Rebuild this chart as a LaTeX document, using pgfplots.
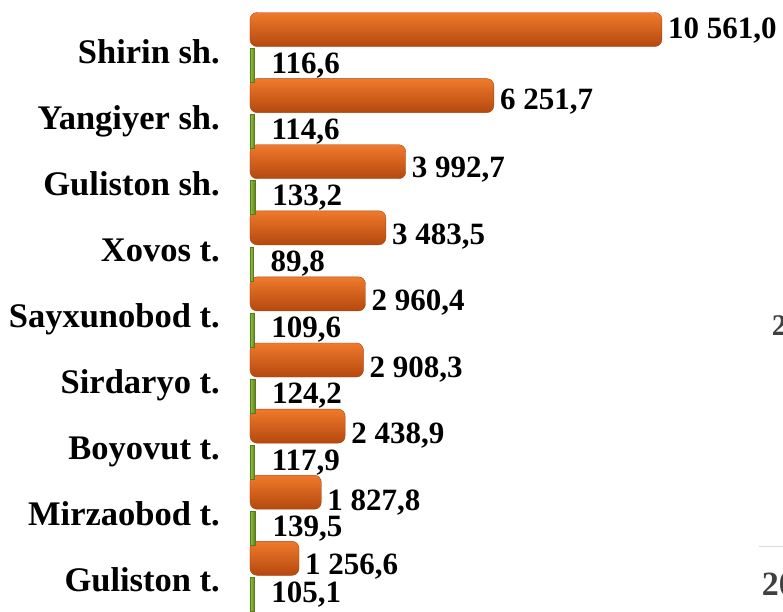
\documentclass[border=0pt]{standalone}
\usepackage{fontspec}
\setmainfont{Liberation Serif}
\usepackage{pgfplots}
\pgfplotsset{compat=1.18}
\definecolor{oTop}{HTML}{F07A2C}
\definecolor{oMid}{HTML}{E8671D}
\definecolor{oBot}{HTML}{B4480E}
\definecolor{oEdge}{HTML}{A8440F}
\definecolor{gL}{HTML}{8DC63F}
\definecolor{gR}{HTML}{5A7A1C}
\definecolor{legtxt}{HTML}{404040}
\definecolor{legline}{HTML}{D9D9D9}
\pgfplotsset{
  obar/.style={xbar, bar shift=0pt, draw=oEdge, top color=oTop, middle color=oMid, bottom color=oBot, rounded corners=7pt,
    point meta=explicit symbolic, nodes near coords,
    every node near coord/.append style={font=\fontsize{31}{31}\selectfont\bfseries, anchor=base west, inner sep=0pt, xshift=6pt, text=black}},
}
\newcommand{\obar}[4]{\addplot[obar, every node near coord/.append style={yshift=#4}] coordinates {(#1,#2) [#3]};}
\begin{document}
\begin{tikzpicture}
\begin{axis}[
  scale only axis, width=533pt, height=611pt,
  xmin=0, xmax=13667, ymin=-0.535, ymax=8.7086,
  axis line style={draw=none},
  clip=false,
  xtick=\empty,
  major tick length=0pt,
  ytick={-0.245,0.755,1.755,2.755,3.755,4.755,5.755,6.755,7.755},
  yticklabels={Guliston t.,Mirzaobod t.,Boyovut t.,Sirdaryo t.,Sayxunobod t.,Xovos t.,Guliston sh.,Yangiyer sh.,Shirin sh.},
  yticklabel style={font=\fontsize{34.5}{36}\selectfont\bfseries, anchor=base east, inner sep=0pt, xshift=-30pt},
  bar width=34pt,
]
\obar{10561.0}{8.262}{10 561,0}{-9pt}
\obar{6251.7}{7.262}{6 251,7}{-14pt}
\obar{3992.7}{6.262}{3 992,7}{-16pt}
\obar{3483.5}{5.262}{3 483,5}{-17pt}
\obar{2960.4}{4.262}{2 960,4}{-17pt}
\obar{2908.3}{3.262}{2 908,3}{-17pt}
\obar{2438.9}{2.262}{2 438,9}{-17pt}
\obar{1827.8}{1.262}{1 827,8}{-18pt}
\obar{1256.6}{0.262}{1 256,6}{-16pt}
\addplot[xbar, bar shift=0pt, draw=gR, left color=gL, right color=gR,
  point meta=explicit symbolic, nodes near coords,
  every node near coord/.append style={font=\fontsize{31}{31}\selectfont\bfseries, anchor=base west, inner sep=0pt, xshift=17pt, yshift=-8pt, text=black}]
coordinates {
 (116.6,7.718) [116,6]
 (114.6,6.718) [114,6]
 (133.2,5.718) [133,2]
 (89.8,4.718) [89,8]
 (109.6,3.718) [109,6]
 (124.2,2.718) [124,2]
 (117.9,1.718) [117,9]
 (139.5,0.718) [139,5]
 (105.1,-0.282) [105,1]
};
\end{axis}
\node[anchor=base west, inner sep=0pt, text=legtxt, font=\fontsize{30}{30}\selectfont\bfseries] at (521.7pt,276pt) {2};
\draw[legline, line width=1pt] (509pt,65pt) -- (540pt,65pt);
\node[anchor=base west, inner sep=0pt, text=legtxt, font=\fontsize{34}{34}\selectfont\bfseries] at (511.7pt,16pt) {20};
\pgfresetboundingbox
\path[use as bounding box] (-250pt,0pt) rectangle (533pt,611pt);
\end{tikzpicture}
\end{document}
